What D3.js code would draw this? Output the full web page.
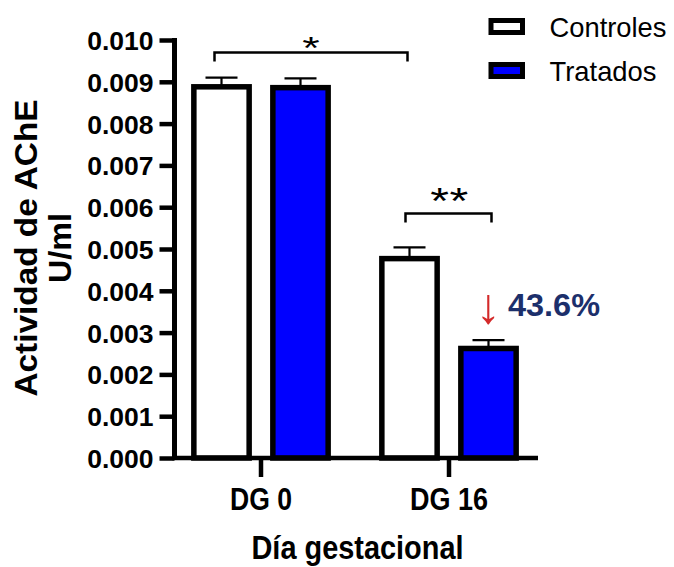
<!DOCTYPE html>
<html><head><meta charset="utf-8">
<script src="https://cdn.jsdelivr.net/npm/d3@7"></script>
<style>
html,body{margin:0;padding:0;background:#fff;}
svg{display:block;}
text{font-family:"Liberation Sans",Arial,sans-serif;}
</style></head>
<body>
<svg id="c" width="674" height="567"></svg>
<script>
const groups = ["DG 0", "DG 16"];
const series = ["Controles", "Tratados"];
const controles = [0.00888, 0.00477];
const tratados = [0.00886, 0.00262];
const controlesSEM = [0.00022, 0.00027];
const tratadosSEM = [0.00022, 0.00020];
const yTicks = [0, 0.001, 0.002, 0.003, 0.004, 0.005, 0.006, 0.007, 0.008, 0.009, 0.010];
const seriesFill = ["#ffffff", "#0000ff"];
const reductionLabel = "43.6%";

(function () {
const svg = d3.select("#c");
const pLeft = 174.5, pRight = 538, pTop = 40, pBottom = 458;

const y = d3.scaleLinear().domain([0, 0.010]).range([pBottom, pTop]);
const x0 = d3.scaleBand().domain(groups).range([167, 543]).paddingInner(0).paddingOuter(0);
const x1 = d3.scaleBand().domain(series).range([15, 173]).paddingInner(0.3).paddingOuter(0.15);

const values = [controles, tratados];
const sems = [controlesSEM, tratadosSEM];
const rows = [];
groups.forEach((g, gi) => series.forEach((s, si) => rows.push({g, s, si, v: values[si][gi], e: sems[si][gi]})));

const eb = svg.append("g").attr("stroke", "#000").attr("stroke-width", 2.2);
rows.forEach(d => {
  const cx = x0(d.g) + x1(d.s) + x1.bandwidth() / 2;
  eb.append("line").attr("x1", cx).attr("x2", cx).attr("y1", y(d.v)).attr("y2", y(d.v + d.e));
  eb.append("line").attr("x1", cx - 16).attr("x2", cx + 16).attr("y1", y(d.v + d.e)).attr("y2", y(d.v + d.e));
});

svg.append("g").selectAll("rect").data(rows).join("rect")
  .attr("x", d => x0(d.g) + x1(d.s))
  .attr("width", x1.bandwidth())
  .attr("y", d => y(d.v))
  .attr("height", d => y(0) - y(d.v))
  .attr("fill", d => seriesFill[d.si])
  .attr("stroke", "#000").attr("stroke-width", 5.5);

const ya = svg.append("g").attr("transform", `translate(${pLeft},0)`)
  .call(d3.axisLeft(y).tickValues(yTicks).tickFormat(d3.format(".3f")).tickSize(15).tickSizeOuter(0).tickPadding(6));
ya.select(".domain").attr("stroke-width", 5).attr("d", `M0,${pTop - 2}V${pBottom}`);
ya.selectAll(".tick line").attr("stroke-width", 4.5);
ya.selectAll(".tick text").attr("font-size", 26.5).attr("font-weight", "bold").attr("fill", "#000")
  .attr("font-family", '"Liberation Sans",Arial,sans-serif').attr("dy", "0.36em");

const xa = svg.append("g").attr("transform", `translate(0,${pBottom})`)
  .call(d3.axisBottom(x0).tickSize(19).tickSizeOuter(0).tickPadding(11));
xa.select(".domain").attr("d", `M${pLeft - 2.5},0H${pRight}`).attr("stroke-width", 4.5);
xa.selectAll(".tick line").attr("stroke-width", 4.5);
xa.selectAll(".tick text").attr("font-size", 30.5).attr("font-weight", "bold").attr("fill", "#000")
  .attr("font-family", '"Liberation Sans",Arial,sans-serif').attr("dy", "0.71em")
  .attr("textLength", d => d === "DG 0" ? 62 : 78).attr("lengthAdjust", "spacingAndGlyphs");

svg.append("text").attr("x", 357.5).attr("y", 559).attr("text-anchor", "middle")
  .attr("font-size", 33).attr("font-weight", "bold").attr("textLength", 212).attr("lengthAdjust", "spacingAndGlyphs")
  .text("Día gestacional");
const yt = svg.append("g").attr("transform", "translate(37,248) rotate(-90)");
yt.append("text").attr("x", 0).attr("y", 0).attr("text-anchor", "middle").attr("font-size", 30.5)
  .attr("font-weight", "bold").attr("textLength", 297).attr("lengthAdjust", "spacingAndGlyphs").text("Actividad de AChE");
yt.append("text").attr("x", 0).attr("y", 34).attr("text-anchor", "middle").attr("font-size", 30.5)
  .attr("font-weight", "bold").attr("textLength", 70).attr("lengthAdjust", "spacingAndGlyphs").text("U/ml");

const cxf = (g, s) => x0(g) + x1(s) + x1.bandwidth() / 2;
const brackets = [
  {x1: cxf("DG 0", "Controles") - 7, x2: cxf("DG 16", "Controles") - 2, v: 0.00970, label: "*", fs: 32, inkTop: 16.3, sx: 1.4},
  {x1: cxf("DG 16", "Controles") - 4, x2: cxf("DG 16", "Tratados") + 3, v: 0.00585, label: "**", fs: 37, inkTop: 26.6, sx: 1.3}
];
brackets.forEach(b => {
  const yy = y(b.v);
  svg.append("path").attr("d", `M${b.x1},${yy + 9}V${yy}H${b.x2}V${yy + 9}`)
    .attr("fill", "none").attr("stroke", "#000").attr("stroke-width", 2.5);
  const bx = (b.x1 + b.x2) / 2 + (b.label.length > 1 ? 1 : 0);
  const by = yy - b.inkTop + 0.72 * b.fs;
  svg.append("text").attr("transform", `translate(${bx},${by}) scale(${b.sx},1)`)
    .attr("text-anchor", "middle").attr("font-size", b.fs)
    .attr("letter-spacing", b.label.length > 1 ? 0.5 : 0).text(b.label);
});

const ax = cxf("DG 16", "Tratados");
svg.append("text").attr("x", ax).attr("y", 323).attr("text-anchor", "middle").attr("font-size", 50)
  .attr("fill", "#d42a2a").attr("font-family", '"DejaVu Sans",sans-serif').text("↓");
svg.append("text").attr("x", 508).attr("y", 316).attr("font-size", 31).attr("font-weight", "bold")
  .attr("fill", "#1c2f6b").attr("textLength", 92).attr("lengthAdjust", "spacingAndGlyphs").text(reductionLabel);

const lg = svg.append("g");
series.forEach((s, i) => {
  const yy = 26.5 + i * 44;
  lg.append("rect").attr("x", 491).attr("y", yy - 6).attr("width", 31.5).attr("height", 12)
    .attr("fill", seriesFill[i]).attr("stroke", "#000").attr("stroke-width", 5);
  lg.append("text").attr("x", 549.5).attr("y", yy + 10).attr("font-size", 28.5)
    .attr("textLength", i === 0 ? 117 : 107).attr("lengthAdjust", "spacingAndGlyphs").text(s);
});
})();
</script>
</body></html>
